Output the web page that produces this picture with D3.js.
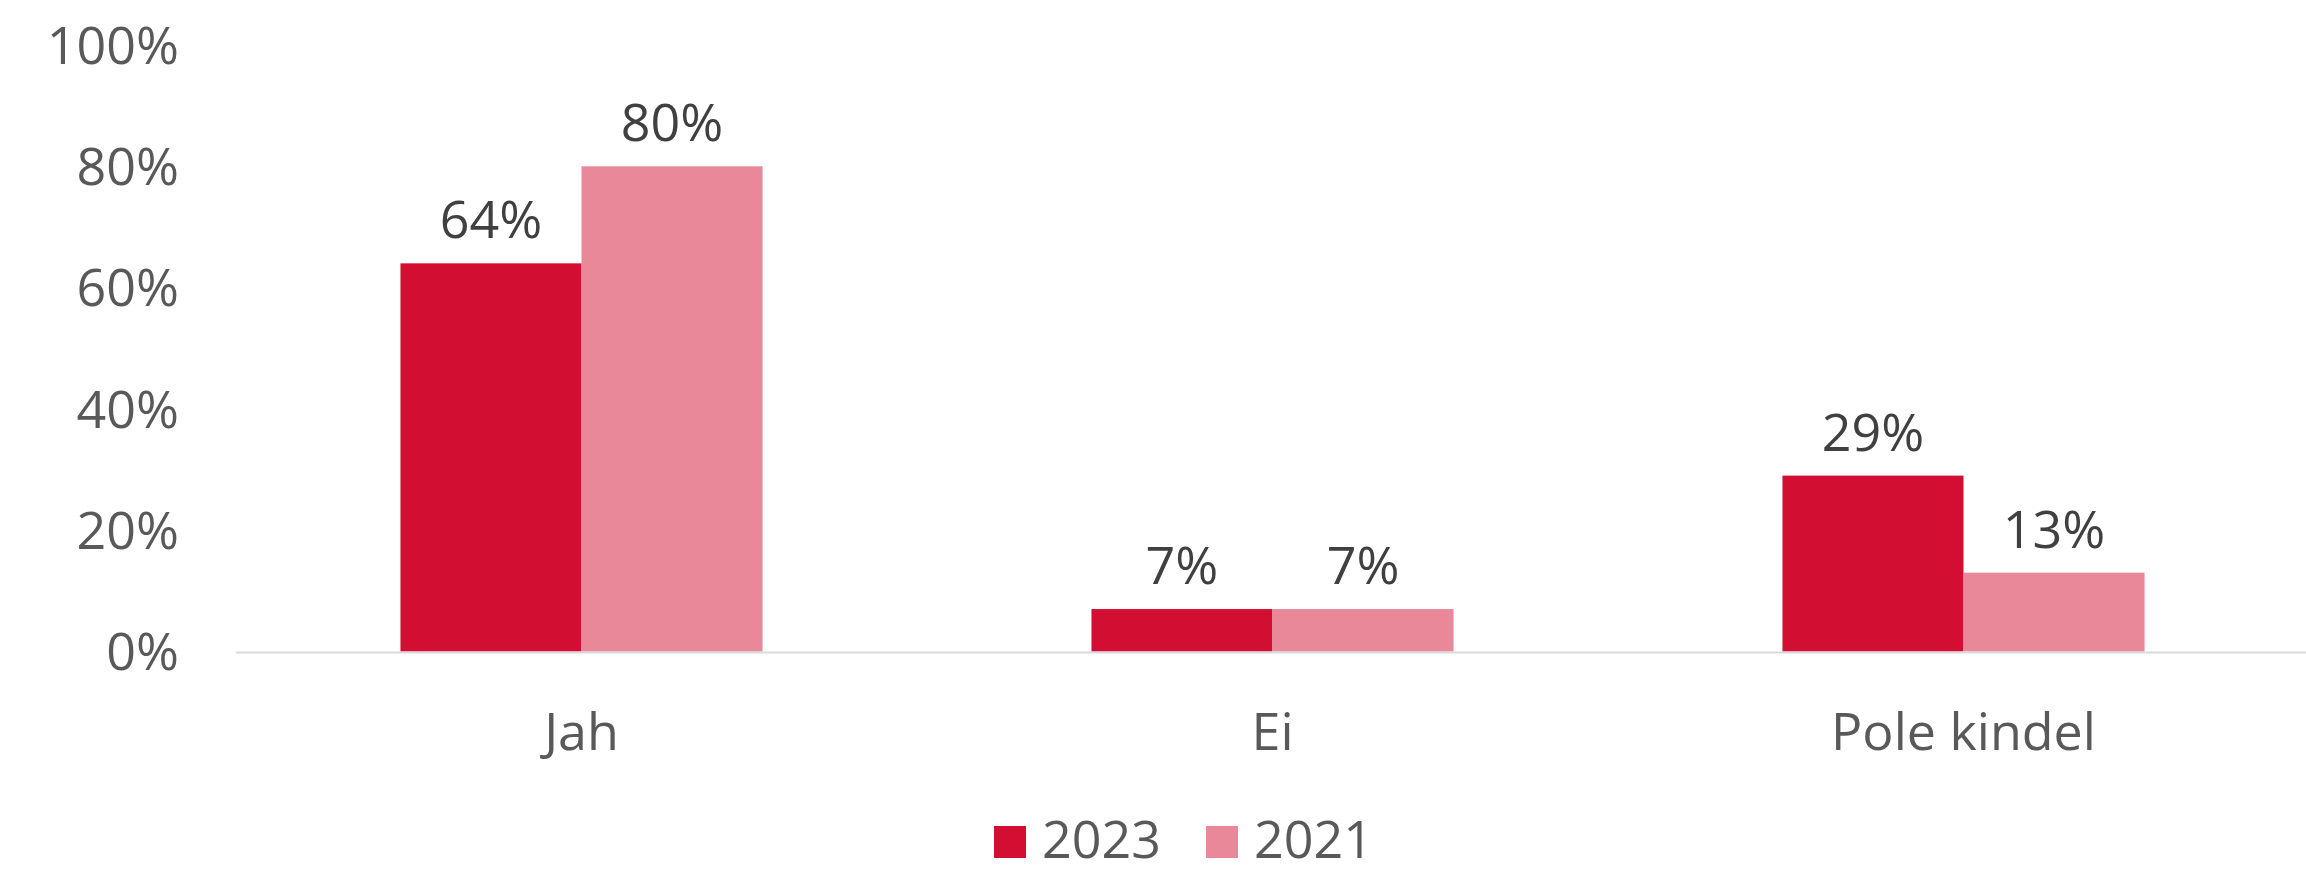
<!DOCTYPE html>
<html>
<head>
<meta charset="utf-8">
<script src="https://cdn.jsdelivr.net/npm/d3@7"></script>
<style>
  body { margin: 0; background: #fff; overflow: hidden; }
  text { font-family: "Open Sans", sans-serif; }
</style>
</head>
<body>
<div id="chart"></div>
<script>
var categories = ["Jah", "Ei", "Pole kindel"];
var seriesNames = ["2023", "2021"];
var values2023 = [64, 7, 29];
var values2021 = [80, 7, 13];
var yTicks = [0, 20, 40, 60, 80, 100];

var colors = { "2023": "#d20f32", "2021": "#e88898" };

var width = 2306, height = 873;
var plot = { left: 236, right: 2309, top: 45, bottom: 651.5 };

var svg = d3.select("#chart")
  .append("svg")
    .attr("width", width)
    .attr("height", height);

var data = categories.map(function(c, i) {
  return { cat: c, vals: [
    { key: "2023", value: values2023[i] },
    { key: "2021", value: values2021[i] }
  ]};
});

var x0 = d3.scaleBand()
  .domain(categories)
  .range([plot.left, plot.right])
  .paddingInner(0.476)
  .paddingOuter(0.238);

var x1 = d3.scaleBand()
  .domain(seriesNames)
  .range([0, x0.bandwidth()]);

var y = d3.scaleLinear()
  .domain([0, 100])
  .range([plot.bottom, plot.top]);

// y tick labels
svg.append("g")
  .selectAll("text")
  .data(yTicks)
  .enter()
  .append("text")
    .attr("x", 179)
    .attr("y", function(d) { return y(d); })
    .attr("dy", "0.36em")
    .attr("text-anchor", "end")
    .attr("fill", "#595959")
    .style("font-size", "52px")
    .text(function(d) { return d + "%"; });

// bars
var groups = svg.append("g")
  .selectAll("g")
  .data(data)
  .enter()
  .append("g")
    .attr("transform", function(d) { return "translate(" + x0(d.cat) + ",0)"; });

groups.selectAll("rect")
  .data(function(d) { return d.vals; })
  .enter()
  .append("rect")
    .attr("x", function(d) { return x1(d.key); })
    .attr("y", function(d) { return y(d.value); })
    .attr("width", x1.bandwidth())
    .attr("height", function(d) { return y(0) - y(d.value); })
    .attr("fill", function(d) { return colors[d.key]; });

groups.selectAll("text")
  .data(function(d) { return d.vals; })
  .enter()
  .append("text")
    .attr("x", function(d) { return x1(d.key) + x1.bandwidth() / 2; })
    .attr("y", function(d) { return y(d.value) - 25; })
    .attr("text-anchor", "middle")
    .attr("fill", "#404040")
    .style("font-size", "52px")
    .text(function(d) { return d.value + "%"; });

// baseline
svg.append("line")
  .attr("x1", plot.left)
  .attr("x2", width)
  .attr("y1", y(0) + 1)
  .attr("y2", y(0) + 1)
  .attr("stroke", "#d9d9d9")
  .attr("stroke-width", 2);

// category labels
svg.append("g")
  .selectAll("text")
  .data(categories)
  .enter()
  .append("text")
    .attr("x", function(d) { return x0(d) + x0.bandwidth() / 2; })
    .attr("y", 750)
    .attr("text-anchor", "middle")
    .attr("fill", "#595959")
    .style("font-size", "52px")
    .text(function(d) { return d; });

// legend
var legendX = [994, 1206];
var legend = svg.append("g")
  .selectAll("g")
  .data(seriesNames)
  .enter()
  .append("g")
    .attr("transform", function(d, i) { return "translate(" + legendX[i] + ",826)"; });

legend.append("rect")
  .attr("width", 32)
  .attr("height", 32)
  .attr("fill", function(d) { return colors[d]; });

legend.append("text")
  .attr("x", 48)
  .attr("y", 32)
  .attr("fill", "#595959")
  .style("font-size", "52px")
  .text(function(d) { return d; });
</script>
</body>
</html>
